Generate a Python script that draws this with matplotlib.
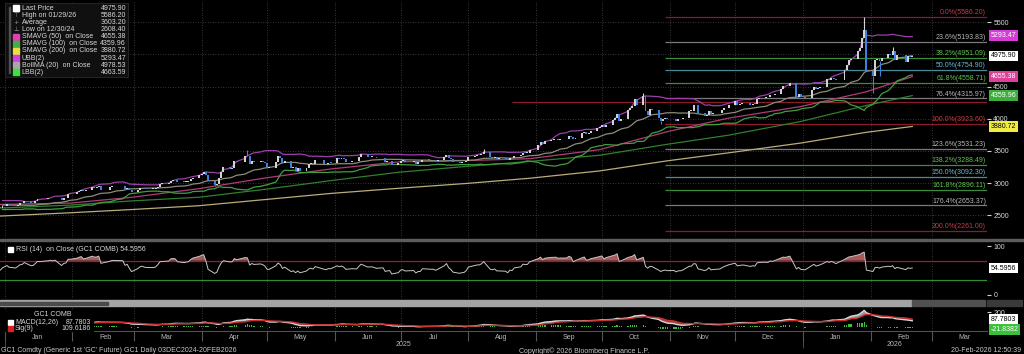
import matplotlib
matplotlib.use("Agg")
import matplotlib.pyplot as plt
import matplotlib.dates as mdates
import matplotlib.transforms as mtrans
from matplotlib.patches import Rectangle
import numpy as np
import pandas as pd

plt.rcParams["font.family"] = ["Liberation Sans", "DejaVu Sans"]

# GC1 daily closes, one list per month (COMEX trading days)
closes_by_month = {
    "2024-12": [2660, 2672, 2650, 2657, 2690, 2718, 2749, 2708, 2675, 2670, 2665, 2611, 2610, 2644,
                2635, 2638, 2655, 2633, 2617, 2641],
    "2025-01": [2669, 2654, 2647, 2665, 2685, 2690, 2715, 2690, 2693, 2718, 2750, 2748, 2762, 2770,
                2766, 2777, 2740, 2767, 2772, 2836, 2835],
    "2025-02": [2857, 2877, 2893, 2877, 2886, 2938, 2932, 2933, 2954, 2900, 2935, 2952, 2954, 2953,
                2952, 2916, 2930, 2893, 2858],
    "2025-03": [2896, 2923, 2926, 2917, 2914, 2914, 2920, 2947, 2990, 2993, 3001, 3041, 3045, 3043,
                3024, 3018, 3025, 3029, 3060, 3085, 3122],
    "2025-04": [3148, 3166, 3122, 3035, 2973, 2990, 3080, 3175, 3245, 3227, 3230, 3346, 3328, 3425,
                3420, 3294, 3349, 3330, 3347, 3333, 3306],
    "2025-05": [3240, 3243, 3333, 3422, 3392, 3306, 3344, 3228, 3250, 3194, 3240, 3187, 3233, 3291,
                3314, 3294, 3365, 3301, 3290, 3319, 3315],
    "2025-06": [3397, 3378, 3397, 3376, 3331, 3347, 3343, 3343, 3402, 3452, 3403, 3407, 3408, 3385,
                3394, 3333, 3343, 3348, 3287, 3307],
    "2025-07": [3349, 3357, 3336, 3342, 3302, 3323, 3325, 3365, 3360, 3358, 3359, 3346, 3358, 3407,
                3444, 3396, 3373, 3335, 3317, 3324, 3327, 3348],
    "2025-08": [3399, 3427, 3435, 3435, 3453, 3491, 3404, 3397, 3409, 3382, 3382, 3378, 3358, 3390,
                3384, 3418, 3433, 3475, 3470, 3474, 3516],
    "2025-09": [3590, 3635, 3610, 3653, 3677, 3680, 3683, 3674, 3680, 3680, 3725, 3717, 3679, 3705,
                3775, 3800, 3768, 3780, 3809, 3855, 3873],
    "2025-10": [3897, 3868, 3908, 3977, 4005, 4070, 3972, 4000, 4133, 4163, 4201, 4304, 4213, 4359,
                4125, 4065, 4146, 4137, 4018, 3964, 4000, 4015, 3996],
    "2025-11": [4003, 3960, 3990, 3990, 4009, 4123, 4127, 4213, 4210, 4094, 4045, 4066, 4128, 4070,
                4083, 4095, 4133, 4164, 4218],
    "2025-12": [4274, 4219, 4232, 4243, 4243, 4219, 4236, 4230, 4313, 4329, 4335, 4332, 4373, 4368,
                4387, 4469, 4505, 4502, 4552, 4343, 4386, 4341],
    "2026-01": [4330, 4450, 4495, 4456, 4477, 4500, 4615, 4600, 4635, 4620, 4595, 4765, 4837, 4913,
                4935, 5050, 5100, 5250, 5380, 4745],
    "2026-02": [4660, 4920, 4930, 4890, 4950, 5010, 4990, 5050, 4920, 4990, 4885, 4980, 4960, 4975.9],
}
holidays = ["2024-12-25", "2025-01-01", "2025-01-20", "2025-02-17", "2025-04-18", "2025-05-26",
            "2025-06-19", "2025-07-04", "2025-09-01", "2025-11-27", "2025-12-25", "2026-01-01",
            "2026-01-19", "2026-02-16"]

# intraday extremes where a wick is visible
wick_high = {"2025-04-22": 3509, "2025-08-08": 3534, "2025-10-20": 4398, "2026-01-29": 5586.2,
             "2026-02-11": 5110}
wick_low = {"2024-12-30": 2608.4, "2025-04-07": 2956, "2025-10-28": 3925, "2026-02-02": 4402,
            "2026-02-05": 4660}

# moving averages
sma_dates = ["2024-12-30", "2025-01-31", "2025-02-28", "2025-03-31", "2025-04-30", "2025-05-30",
             "2025-06-30", "2025-07-31", "2025-08-29", "2025-09-30", "2025-10-31", "2025-11-28",
             "2025-12-31", "2026-01-30", "2026-02-20"]
sma50 = [2670, 2690, 2780, 2915, 3080, 3220, 3330, 3350, 3380, 3520, 3800, 4010, 4190, 4420, 4655.38]
sma100 = [2614, 2659, 2724, 2782, 2904, 3039, 3169, 3260, 3337, 3433, 3604, 3745, 3958, 4207, 4359.96]
sma200 = [2489, 2540, 2590, 2650, 2745, 2840, 2920, 2995, 3076, 3190, 3347, 3471, 3623, 3790, 3880.72]

# fibonacci retracement
fib_pcts = ["0.0%", "23.6%", "38.2%", "50.0%", "61.8%", "76.4%", "100.0%", "123.6%", "138.2%",
            "150.0%", "161.8%", "176.4%", "200.0%"]
fib_vals = [5586.20, 5193.83, 4951.09, 4754.90, 4558.71, 4315.97, 3923.60, 3531.23, 3288.49,
            3092.30, 2896.11, 2653.37, 2261.00]
fib_start = "2025-10-30"
marker_level = 4261
marker_start = "2025-08-21"

legend_rows = [
    ("Last Price", "4975.90"), ("High on 01/29/26", "5586.20"), ("Average", "3603.20"),
    ("Low on 12/30/24", "2608.40"), ("SMAVG (50)  on Close", "4655.38"),
    ("SMAVG (100)  on Close", "4359.96"), ("SMAVG (200)  on Close", "3880.72"),
    ("UBB(2)", "5293.47"), ("BollMA (20)  on Close", "4978.53"), ("LBB(2)", "4663.59"),
]
rsi_last = 54.5956
macd_last = 87.7803
sig_last = 109.6186
hist_last = -21.8382

# ---- build series
hol = set(pd.to_datetime(holidays))
dates, closes = [], []
for month, vals in closes_by_month.items():
    start = pd.Timestamp("2024-12-03") if month == "2024-12" else pd.Timestamp(month + "-01")
    end = min(start + pd.offsets.MonthEnd(0), pd.Timestamp("2026-02-20"))
    days = [d for d in pd.bdate_range(start, end) if d not in hol]
    assert len(days) == len(vals), (month, len(days), len(vals))
    dates += days
    closes += vals
close = pd.Series(closes, index=pd.DatetimeIndex(dates), dtype=float)
opn = close.shift(1).fillna(close.iloc[0])

mid = close.rolling(20).mean()
sd = close.rolling(20).std(ddof=0)
ubb, lbb = mid + 2 * sd, mid - 2 * sd

delta = close.diff()
gain = delta.clip(lower=0).ewm(alpha=1 / 14, adjust=False).mean()
loss = (-delta.clip(upper=0)).ewm(alpha=1 / 14, adjust=False).mean()
rsi = 100 - 100 / (1 + gain / loss)

macd = close.ewm(span=12, adjust=False).mean() - close.ewm(span=26, adjust=False).mean()
signal = macd.ewm(span=9, adjust=False).mean()
hist = macd - signal

# ---- figure
W, H = 1024, 354
fig = plt.figure(figsize=(W / 100, H / 100), dpi=100, facecolor="black")


def box(x, y, w, h):
    return [x / W, 1 - (y + h) / H, w / W, h / H]


ax_p = fig.add_axes(box(0, 2, 987, 236))
ax_r = fig.add_axes(box(0, 242, 987, 57))
ax_m = fig.add_axes(box(0, 307, 987, 24))

x0 = pd.Timestamp("2024-12-29 20:25")
x1 = pd.Timestamp("2026-03-26 03:36")
grid_kw = dict(color="#4a4a4a", linestyle=(0, (1, 2)), linewidth=0.6)

for ax in (ax_p, ax_r, ax_m):
    ax.set_facecolor("black")
    for sp in ax.spines.values():
        sp.set_visible(False)
    ax.set_xlim(x0, x1)
    ax.xaxis.set_major_locator(mdates.MonthLocator())
    ax.grid(axis="x", **grid_kw)
    ax.tick_params(axis="x", which="both", length=0, labelbottom=False)
    ax.yaxis.tick_right()
    ax.tick_params(axis="y", length=3, color="#d0d0d0", labelsize=5, labelcolor="#d8d8d8", pad=1.5)

# ---- price panel
ax_p.set_ylim(2148, 5814)
ax_p.set_yticks([2500, 3000, 3500, 4000, 4500, 5500])
for lv in [2500, 3000, 3500, 4000, 4500, 5000, 5500]:
    ax_p.axhline(lv, zorder=0, **grid_kw)

up = close >= opn
body_lo = np.minimum(opn, close)
body_h = np.maximum(np.abs(close - opn), 8)
ax_p.bar(close.index, body_h, bottom=body_lo, width=0.9,
         color=np.where(up, "#d2d2d2", "#3d82e0"), linewidth=0, zorder=4)
for d, hv in wick_high.items():
    d = pd.Timestamp(d)
    ax_p.vlines(d, max(opn[d], close[d]), hv, color="#d2d2d2" if up[d] else "#3d82e0", lw=0.8, zorder=4)
for d, lv in wick_low.items():
    d = pd.Timestamp(d)
    ax_p.vlines(d, lv, min(opn[d], close[d]), color="#d2d2d2" if up[d] else "#3d82e0", lw=0.8, zorder=4)

sd_idx = pd.to_datetime(sma_dates)
ax_p.plot(sd_idx, sma200, color="#b8ae7a", lw=0.9, zorder=3)
ax_p.plot(sd_idx, sma100, color="#2f7f2f", lw=0.9, zorder=3)
ax_p.plot(sd_idx, sma50, color="#b03c78", lw=0.9, zorder=3)
ax_p.plot(close.index, ubb, color="#9a3fa8", lw=0.9, zorder=3)
ax_p.plot(close.index, mid, color="#8c8c7c", lw=0.9, zorder=3)
ax_p.plot(close.index, lbb, color="#3fa03f", lw=0.9, zorder=3)

fib_line_col = {"r": "#8c1c2c", "g": "#3c8c3c", "t": "#4a8a9a", "w": "#7a7a7a"}
fib_text_col = {"r": "#c83a44", "g": "#62c052", "t": "#6ab8d0", "w": "#b8b8b8"}
fib_kind = ["r", "w", "g", "t", "g", "w", "r", "w", "g", "t", "g", "w", "r"]
tr_p = mtrans.blended_transform_factory(ax_p.transAxes, ax_p.transData)
ax_p.hlines(marker_level, pd.Timestamp(marker_start), x1, color="#8c1c2c", lw=0.9, zorder=2)
for pct, val, k in zip(fib_pcts, fib_vals, fib_kind):
    ax_p.hlines(val, pd.Timestamp(fib_start), x1, color=fib_line_col[k], lw=0.9, zorder=2)
    ax_p.text(0.999, val + 12, f"{pct}({val:.2f})", transform=tr_p, ha="right", va="bottom",
              fontsize=5, color=fib_text_col[k], zorder=5)

price_tags = [(5293.47, "#d83cd8", "white"), (4975.90, "white", "black"),
              (4655.38, "#e0409c", "white"), (4359.96, "#3cae3c", "white"),
              (3880.72, "#f0ec40", "black")]
for val, fc, tc in price_tags:
    ax_p.text(1.0035, val, f"{val:.2f}", transform=tr_p, ha="left", va="center", fontsize=5,
              color=tc, clip_on=False, zorder=10,
              bbox=dict(boxstyle="square,pad=0.25", fc=fc, ec="none"))

# ---- RSI panel
ax_r.set_ylim(-8.2, 108.2)
ax_r.set_yticks([0, 100])
ax_r.axhline(70, color="#a01c2c", lw=0.9)
ax_r.axhline(30, color="#2f8f2f", lw=0.9)
ax_r.fill_between(rsi.index, 70, rsi, where=rsi > 70, interpolate=True, color="#a85a5a", lw=0)
ax_r.plot(rsi.index, rsi, color="#c8c8c8", lw=0.7)
tr_r = mtrans.blended_transform_factory(ax_r.transAxes, ax_r.transData)
ax_r.text(1.0035, rsi_last, f"{rsi_last:.4f}", transform=tr_r, ha="left", va="center", fontsize=5,
          color="black", clip_on=False, bbox=dict(boxstyle="square,pad=0.25", fc="white", ec="none"))

# ---- MACD panel
ax_m.set_ylim(-62, 269)
ax_m.set_yticks([200])
ax_m.bar(hist.index, hist, width=0.6, color="#3cc03c", linewidth=0)
ax_m.fill_between(macd.index, macd, signal, where=macd >= signal, interpolate=True,
                  color="#9a9a9a", lw=0)
ax_m.fill_between(macd.index, macd, signal, where=macd < signal, interpolate=True,
                  color="#a04848", lw=0)
ax_m.plot(macd.index, macd, color="#d8d8d8", lw=1.0)
ax_m.plot(signal.index, signal, color="#c83030", lw=1.0)
tr_m = mtrans.blended_transform_factory(ax_m.transAxes, ax_m.transData)
ax_m.text(1.0035, macd_last + 10, f"{macd_last:.4f}", transform=tr_m, ha="left", va="center",
          fontsize=5, color="black", clip_on=False,
          bbox=dict(boxstyle="square,pad=0.25", fc="white", ec="none"))
ax_m.text(1.0035, hist_last - 20, f"{hist_last:.4f}", transform=tr_m, ha="left", va="center",
          fontsize=5, color="white", clip_on=False,
          bbox=dict(boxstyle="square,pad=0.25", fc="#3cc03c", ec="none"))

ax_m.spines["bottom"].set_visible(True)
ax_m.spines["bottom"].set_color("#505050")
ax_m.tick_params(axis="x", which="major", length=7, color="#555555", direction="out")
ax_m.xaxis.set_minor_locator(mdates.MonthLocator(bymonthday=16))
ax_m.xaxis.set_minor_formatter(mdates.DateFormatter("%b"))
ax_m.tick_params(axis="x", which="minor", length=0, labelbottom=True, labelsize=5,
                 labelcolor="#b8b8b8", pad=2.5)
tr_mx = mtrans.blended_transform_factory(ax_m.transData, ax_m.transAxes)
jan25, jan26 = pd.Timestamp("2025-01-01"), pd.Timestamp("2026-01-01")
ax_m.text(jan25 + (jan26 - jan25) / 2, -0.55, "2025", transform=tr_mx, ha="center", va="center",
          fontsize=5, color="#b8b8b8")
ax_m.text(jan26 + (x1 - jan26) / 2, -0.55, "2026", transform=tr_mx, ha="center", va="center",
          fontsize=5, color="#b8b8b8")
for d in (jan25, jan26):
    ax_m.vlines(d, -0.32, -0.72, transform=tr_mx, color="#555555", lw=0.6, clip_on=False)

# ---- separators
fig.add_artist(Rectangle((0, 1 - 241 / H), 1, 2.5 / H, transform=fig.transFigure, color="#5c5c5c"))
fig.add_artist(Rectangle((0, 1 - 306 / H), 912 / W, 6.5 / H, transform=fig.transFigure, color="#a4a4a4"))
fig.add_artist(Rectangle((0, 1 - 304.5 / H), 108 / W, 3 / H, transform=fig.transFigure, color="#4a4a4a"))
fig.add_artist(Rectangle((912 / W, 1 - 306 / H), 73 / W, 6.5 / H, transform=fig.transFigure, color="#505050"))
fig.add_artist(Rectangle((987 / W, 1 - 306 / H), 35 / W, 6.5 / H, transform=fig.transFigure, color="#3a3a3a"))

# ---- legend box
fig.add_artist(Rectangle((5 / W, 1 - 77 / H), 123 / W, 74 / H, transform=fig.transFigure,
                         fc="#101010", ec="#2a2a2a", lw=0.6, zorder=20))
fig.add_artist(Rectangle((9 / W, 1 - 73 / H), 0.6 / W, 66 / H, transform=fig.transFigure,
                         color="#505050", zorder=21))
sq_cols = ["#ffffff", None, None, None, "#e040b0", "#40b040", "#e8e040", "#d040e0", "#a8a8a8", "#40e040"]
icons = [None, "\u22a4", "+", "\u22a5"] + [None] * 6
for i, ((lab, val), sc, ic) in enumerate(zip(legend_rows, sq_cols, icons)):
    yc = 8.3 + i * 7.1
    if sc:
        fig.add_artist(Rectangle((13 / W, 1 - (yc + 3) / H), 6 / W, 6 / H, transform=fig.transFigure,
                                 color=sc, zorder=22))
    else:
        fig.text(16 / W, 1 - yc / H, ic, fontsize=4.5, color="#a0a0a0", ha="center", va="center",
                 family=["DejaVu Sans"], zorder=22)
    fig.text(21.5 / W, 1 - yc / H, lab, fontsize=5, color="#d8d8d8", va="center", zorder=22)
    fig.text(126 / W, 1 - yc / H, val, fontsize=5, color="#d8d8d8", va="center", ha="right", zorder=22)

# ---- panel labels
fig.add_artist(Rectangle((8 / W, 1 - 252 / H), 5 / W, 5 / H, transform=fig.transFigure, color="white"))
fig.text(16 / W, 1 - 249.5 / H, f"RSI (14)  on Close (GC1 COMB) {rsi_last:.4f}", fontsize=5,
         color="#d8d8d8", va="center")
fig.add_artist(Rectangle((0, 1 - 331 / H), 93 / W, 20 / H, transform=fig.transFigure, color="black",
                         zorder=20))
fig.text(34 / W, 1 - 315 / H, "GC1 COMB", fontsize=5, color="#d8d8d8", va="center", zorder=21)
fig.add_artist(Rectangle((8 / W, 1 - 324.5 / H), 5 / W, 5 / H, transform=fig.transFigure,
                         color="white", zorder=21))
fig.text(15 / W, 1 - 322 / H, "MACD(12,26)", fontsize=5, color="#d8d8d8", va="center", zorder=21)
fig.text(91 / W, 1 - 322 / H, f"{macd_last:.4f}", fontsize=5, color="#d8d8d8", va="center",
         ha="right", zorder=21)
fig.add_artist(Rectangle((8 / W, 1 - 330.5 / H), 5 / W, 5 / H, transform=fig.transFigure,
                         color="#d82020", zorder=21))
fig.text(15 / W, 1 - 328 / H, "Sig(9)", fontsize=5, color="#d8d8d8", va="center", zorder=21)
fig.text(91 / W, 1 - 328 / H, f"{sig_last:.4f}", fontsize=5, color="#d8d8d8", va="center",
         ha="right", zorder=21)

# ---- footer
fy = 1 - 351 / H
fig.text(1 / W, fy, "GC1 Comdty (Generic 1st 'GC' Future) GC1 Daily 03DEC2024-20FEB2026",
         fontsize=5, color="#c8c8c8", va="center")
fig.text(584 / W, fy, "Copyright\u00a9 2026 Bloomberg Finance L.P.", fontsize=5, color="#c8c8c8",
         va="center", ha="center")
fig.text(1021 / W, fy, "20-Feb-2026 12:50:39", fontsize=5, color="#c8c8c8", va="center", ha="right")

fig.savefig("out.png", dpi=100, facecolor="black")
